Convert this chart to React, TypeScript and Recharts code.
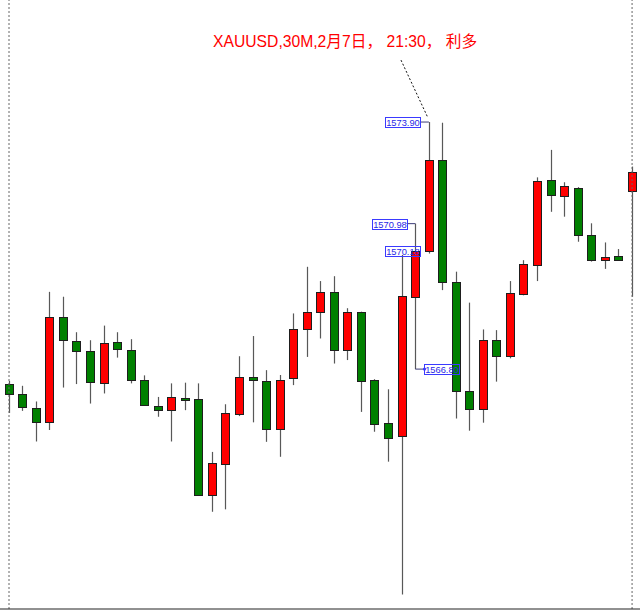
import React from 'react';
import { ComposedChart, Bar, XAxis, YAxis, ReferenceLine, ReferenceDot } from 'recharts';

// XAUUSD 30M candles (index 0..46)
const opens = [
  1566.37, 1566.08, 1565.67, 1565.29, 1568.30, 1567.61, 1567.31, 1566.41, 1567.58, 1567.35,
  1566.50, 1565.75, 1565.62, 1565.97, 1565.93, 1563.19, 1564.06, 1565.51, 1566.58, 1566.46,
  1565.07, 1566.55, 1567.96, 1568.43, 1569.03, 1567.35, 1568.45, 1566.48, 1565.24, 1564.87,
  1568.88, 1570.18, 1572.81, 1569.29, 1566.18, 1565.64, 1567.64, 1567.17, 1568.96, 1569.80,
  1572.23, 1571.77, 1572.01, 1570.65, 1569.93, 1570.06, 1571.93,
];
const highs = [
  1566.46, 1566.32, 1565.87, 1569.02, 1568.88, 1567.86, 1567.63, 1568.05, 1567.86, 1567.66,
  1566.62, 1566.00, 1566.39, 1566.41, 1566.39, 1564.42, 1565.79, 1567.17, 1567.75, 1566.77,
  1566.63, 1568.40, 1569.74, 1569.33, 1569.47, 1568.55, 1568.45, 1566.51, 1566.22, 1570.08,
  1570.98, 1573.90, 1573.88, 1569.60, 1568.71, 1567.94, 1567.92, 1569.33, 1569.93, 1572.31,
  1573.10, 1572.17, 1572.03, 1570.99, 1570.44, 1570.25, 1572.62,
];
const lows = [
  1565.54, 1565.60, 1564.72, 1565.05, 1566.27, 1566.37, 1565.81, 1566.10, 1567.13, 1566.39,
  1565.75, 1565.43, 1564.72, 1565.62, 1563.16, 1562.70, 1562.77, 1565.45, 1565.27, 1564.71,
  1564.28, 1566.34, 1567.15, 1567.68, 1566.96, 1567.06, 1565.57, 1565.00, 1564.14, 1560.32,
  1566.80, 1570.12, 1569.07, 1565.38, 1565.03, 1565.26, 1566.44, 1567.11, 1568.92, 1569.33,
  1571.32, 1571.18, 1570.46, 1569.89, 1569.68, 1569.92, 1568.88,
];
const closes = [
  1566.08, 1565.70, 1565.29, 1568.30, 1567.63, 1567.33, 1566.43, 1567.55, 1567.38, 1566.50,
  1565.77, 1565.63, 1565.99, 1565.91, 1563.19, 1564.09, 1565.53, 1566.57, 1566.48, 1565.07,
  1566.50, 1567.94, 1568.43, 1569.01, 1567.35, 1568.43, 1566.45, 1565.21, 1564.83, 1568.91,
  1570.18, 1572.81, 1569.30, 1566.18, 1565.64, 1567.64, 1567.17, 1568.98, 1569.83, 1572.21,
  1571.80, 1572.07, 1570.65, 1569.93, 1570.03, 1569.93, 1572.45,
];
const timeTicks = [1, 5, 9, 13, 17, 21, 25, 29, 33, 37, 41, 45];
const titleText = 'XAUUSD,30M,2月7日， 21:30， 利多';

const X_DOMAIN: [number, number] = [-0.6645, 46.585];
const Y_DOMAIN: [number, number] = [1559.906, 1577.407];

const data = opens.map((o, i) => ({
  i,
  o,
  h: highs[i],
  l: lows[i],
  c: closes[i],
  range: [lows[i], highs[i]],
}));

const Candle = (props: any) => {
  const { x, y, width, height, payload } = props;
  if (!payload) return null;
  const { o, h, l, c } = payload;
  const cx = Math.round(x + width / 2) + 0.5;
  const top = Math.min(y, y + height);
  const hgt = Math.abs(height);
  const ppu = h === l ? 0 : hgt / (h - l);
  const bt = top + (h - Math.max(o, c)) * ppu;
  const bb = top + (h - Math.min(o, c)) * ppu;
  const up = c > o;
  const rt = Math.round(bt) + 0.5;
  const rb = Math.max(Math.round(bb) + 0.5, rt + 1);
  return (
    <g>
      <line x1={cx} x2={cx} y1={top} y2={top + hgt} stroke="#585858" strokeWidth={1.2} />
      <rect
        x={cx - 4}
        y={rt}
        width={8}
        height={rb - rt}
        fill={up ? '#ff0000' : '#008000'}
        stroke="#1e1e1e"
        strokeWidth={1}
      />
    </g>
  );
};

const makeBox = (text: string, anchor: 'left' | 'right') => (props: any) => {
  const { cx, cy } = props;
  const w = 35;
  const hh = 10;
  const x0 = anchor === 'right' ? cx - w : cx;
  const bx = Math.round(x0) + 0.5;
  const by = Math.round(cy - hh / 2) + 0.5;
  return (
    <g>
      <rect x={bx} y={by} width={w} height={hh} fill="none" stroke="#3a3aff" strokeWidth={1} />
      {anchor === 'left' ? <circle cx={bx} cy={cy} r={1.6} fill="#3a3aff" /> : null}
      <text
        x={bx + w / 2}
        y={by + 8}
        textAnchor="middle"
        fontSize={9.3}
        fill="#2828e6"
        fontFamily="'Liberation Sans', Arial, sans-serif"
      >
        {text}
      </text>
    </g>
  );
};

const hi31 = highs[31];
const hi30 = highs[30];
const cl30 = closes[30];
const lo30 = lows[30];

export default function App() {
  return (
    <div style={{ position: 'absolute', left: 0, top: 0, width: 640, height: 611, background: '#fff' }}>
      <ComposedChart
        width={640}
        height={611}
        data={data}
        margin={{ top: 0, right: 0, bottom: 0, left: 0 }}
      >
        <XAxis
          dataKey="i"
          type="number"
          domain={X_DOMAIN}
          allowDataOverflow
          ticks={timeTicks}
          tick={false}
          tickSize={2}
          height={2}
          axisLine={{ stroke: '#222' }}
          tickLine={{ stroke: '#222' }}
        />
        <YAxis hide type="number" domain={Y_DOMAIN} allowDataOverflow />
        <ReferenceLine x={0} stroke="#666" strokeDasharray="2 2" ifOverflow="visible" />
        <ReferenceLine x={46} stroke="#666" strokeDasharray="2 2" ifOverflow="visible" />
        <Bar dataKey="range" barSize={9} shape={Candle} isAnimationActive={false} />
        <ReferenceLine
          segment={[{ x: 30.34, y: hi31 }, { x: 31, y: hi31 }]}
          stroke="#3c3c78"
          ifOverflow="visible"
        />
        <ReferenceLine
          segment={[{ x: 29.36, y: hi30 }, { x: 30, y: hi30 }]}
          stroke="#3c3c78"
          ifOverflow="visible"
        />
        <ReferenceLine
          segment={[{ x: 30, y: lo30 }, { x: 30.66, y: lo30 }]}
          stroke="#3c3c78"
          ifOverflow="visible"
        />
        <ReferenceLine
          segment={[{ x: 28.94, y: 1575.68 }, { x: 30.93, y: 1574.02 }]}
          stroke="#111"
          strokeDasharray="2 2"
          ifOverflow="visible"
        />
        <ReferenceDot x={30.34} y={hi31} ifOverflow="visible" shape={makeBox(hi31.toFixed(2), 'right')} />
        <ReferenceDot x={29.36} y={hi30} ifOverflow="visible" shape={makeBox(hi30.toFixed(2), 'right')} />
        <ReferenceDot x={30.34} y={cl30} ifOverflow="visible" shape={makeBox(cl30.toFixed(2), 'right')} />
        <ReferenceDot x={30.66} y={lo30} ifOverflow="visible" shape={makeBox(lo30.toFixed(2), 'left')} />
      </ComposedChart>
      <div
        style={{
          position: 'absolute',
          left: 213,
          top: 34,
          fontSize: 15.7,
          lineHeight: '16px',
          color: '#ff0000',
          whiteSpace: 'pre',
          fontFamily: "'Liberation Sans', Arial, 'Noto Sans CJK SC', sans-serif",
        }}
      >
        {titleText}
      </div>
    </div>
  );
}
